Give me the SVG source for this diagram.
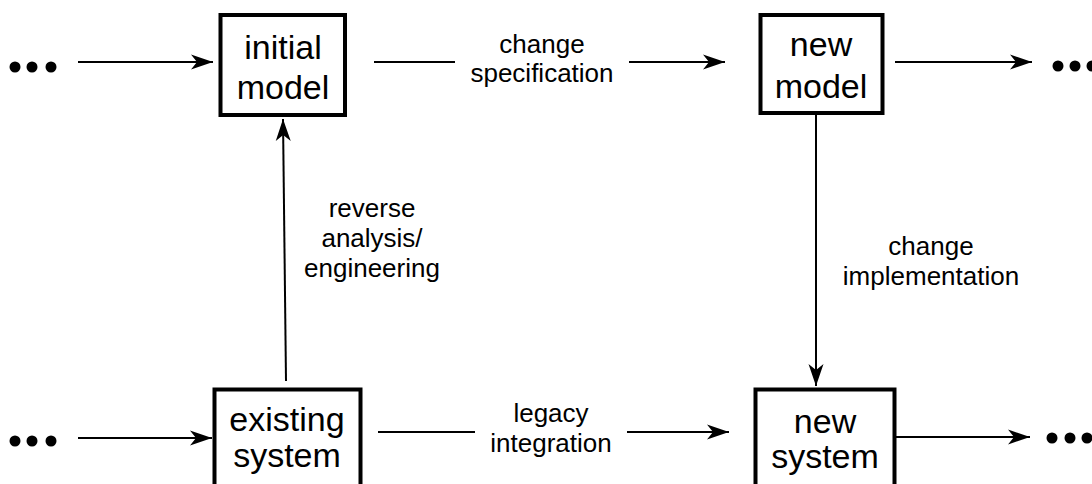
<svg xmlns="http://www.w3.org/2000/svg" width="1092" height="484" viewBox="0 0 1092 484">
<defs>
<marker id="ah" markerUnits="userSpaceOnUse" markerWidth="24" markerHeight="18" viewBox="-23 -9 24 18" refX="0" refY="0" orient="auto">
<path d="M0,0 L-22,-7.5 L-16,0 L-22,7.5 Z" fill="#000"/>
</marker>
</defs>
<style>
.box{fill:#fff;stroke:#000;stroke-width:4}
.bt{font-family:"Liberation Sans",Arial,sans-serif;font-size:34px;fill:#000;text-anchor:middle}
.lt{font-family:"Liberation Sans",Arial,sans-serif;font-size:26px;fill:#000;text-anchor:middle}
.ln{stroke:#000;stroke-width:2;fill:none}
.ar{stroke:#000;stroke-width:2;fill:none;marker-end:url(#ah)}
.dot{fill:#000}
</style>
<rect width="1092" height="484" fill="#fff"/>
<g id="connectors">
<line class="ar" x1="78" y1="62" x2="213" y2="62"/>
<line class="ln" x1="374" y1="62" x2="455" y2="62"/>
<line class="ar" x1="629" y1="62" x2="725" y2="62"/>
<line class="ar" x1="895" y1="62" x2="1032" y2="62"/>
<line class="ar" x1="78" y1="438" x2="212" y2="438"/>
<line class="ln" x1="378" y1="432" x2="475" y2="432"/>
<line class="ar" x1="627" y1="432" x2="729" y2="432"/>
<line class="ar" x1="896" y1="437" x2="1030" y2="437"/>
<line class="ar" x1="286" y1="381" x2="283" y2="119"/>
<line class="ar" x1="816" y1="115" x2="816" y2="386"/>
<text class="lt" x="542" y="53">change</text>
<text class="lt" x="542" y="82">specification</text>
<text class="lt" x="551" y="422">legacy</text>
<text class="lt" x="551" y="452">integration</text>
<text class="lt" x="372" y="217">reverse</text>
<text class="lt" x="372" y="247">analysis/</text>
<text class="lt" x="372" y="277">engineering</text>
<text class="lt" x="931" y="255">change</text>
<text class="lt" x="931" y="285">implementation</text>
</g>
<g id="dots">
<circle class="dot" cx="15" cy="67" r="5.5"/>
<circle class="dot" cx="32" cy="67" r="5.5"/>
<circle class="dot" cx="51" cy="67" r="5.5"/>
<circle class="dot" cx="15" cy="441" r="5.5"/>
<circle class="dot" cx="32" cy="441" r="5.5"/>
<circle class="dot" cx="51" cy="441" r="5.5"/>
<circle class="dot" cx="1058" cy="66" r="5.5"/>
<circle class="dot" cx="1075" cy="66" r="5.5"/>
<circle class="dot" cx="1092" cy="66" r="5.5"/>
<circle class="dot" cx="1052" cy="438" r="5.5"/>
<circle class="dot" cx="1070" cy="438" r="5.5"/>
<circle class="dot" cx="1087" cy="438" r="5.5"/>
</g>
<g id="initial-model">
<rect class="box" x="220.5" y="15" width="124.5" height="100"/>
<text class="bt" x="283" y="59">initial</text>
<text class="bt" x="283" y="99">model</text>
</g>
<g id="new-model">
<rect class="box" x="760.5" y="15" width="122" height="98"/>
<text class="bt" x="821" y="56">new</text>
<text class="bt" x="821" y="98">model</text>
</g>
<g id="existing-system">
<rect class="box" x="214.5" y="389.5" width="146" height="120"/>
<text class="bt" x="287" y="431">existing</text>
<text class="bt" x="287" y="467">system</text>
</g>
<g id="new-system">
<rect class="box" x="755.5" y="389.5" width="139" height="120"/>
<text class="bt" x="825" y="433">new</text>
<text class="bt" x="825" y="468">system</text>
</g>
</svg>
